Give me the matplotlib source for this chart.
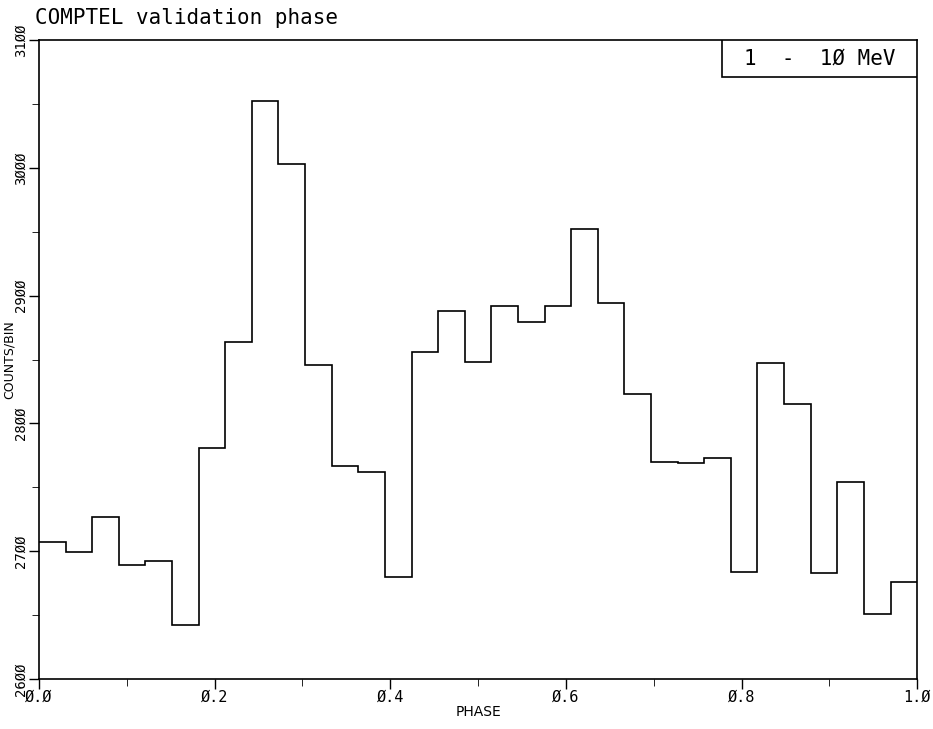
import matplotlib
matplotlib.use("Agg")
import matplotlib.pyplot as plt
from matplotlib.patches import Rectangle
import numpy as np

counts = [2707, 2699, 2727, 2689, 2692, 2642, 2781, 2864, 3052, 3003, 2846,
          2767, 2762, 2680, 2856, 2888, 2848, 2892, 2879, 2892, 2952, 2894,
          2823, 2770, 2769, 2773, 2684, 2847, 2815, 2683, 2754, 2651, 2676]
xticks = [0.0, 0.2, 0.4, 0.6, 0.8, 1.0]
xticklabels = ["Ø.Ø", "Ø.2", "Ø.4", "Ø.6", "Ø.8", "1.Ø"]
yticks = [2600, 2700, 2800, 2900, 3000, 3100]
yticklabels = ["26ØØ", "27ØØ", "28ØØ", "29ØØ", "3ØØØ", "31ØØ"]

plt.rcParams['font.family'] = ['DejaVu Sans Mono']
fig = plt.figure(figsize=(9.33, 7.29), dpi=100)
ax = fig.add_axes([0.0418, 0.0686, 0.9412, 0.8765])
n = len(counts)
edges = np.linspace(0, 1, n + 1)
ax.stairs(counts, edges, color='black', linewidth=1.2, baseline=None)
ax.set_xlim(0, 1)
ax.set_ylim(2600, 3100)
ax.set_xticks(xticks)
ax.set_xticklabels(xticklabels, fontsize=11)
ax.set_xticks(np.arange(0.1, 1.0, 0.2), minor=True)
ax.set_yticks(yticks)
ax.set_yticklabels(yticklabels, fontsize=10, rotation=90, va='center')
ax.set_yticks(np.arange(2650, 3100, 100), minor=True)
ax.tick_params(direction='out', length=7, width=1, pad=1)
ax.tick_params(which='minor', direction='out', length=5)
ax.set_xlabel("PHASE", fontsize=10, labelpad=0, family='DejaVu Sans')
ax.set_ylabel("COUNTS/BIN", fontsize=9, labelpad=0, family='DejaVu Sans')
ax.yaxis.set_label_coords(-0.027, 0.5)
for s in ax.spines.values():
    s.set_linewidth(1.2)
fig.text(0.038, 0.962, "COMPTEL validation phase", fontsize=15, va='bottom', ha='left')
ax.add_patch(Rectangle((0.778, 0.942), 0.222, 0.058, transform=ax.transAxes,
                       fc='white', ec='black', lw=1.2, zorder=5))
ax.text(0.889, 0.971, "1  -  1Ø MeV", transform=ax.transAxes, fontsize=15,
        ha='center', va='center', zorder=6)
fig.savefig("out.png", dpi=100)
